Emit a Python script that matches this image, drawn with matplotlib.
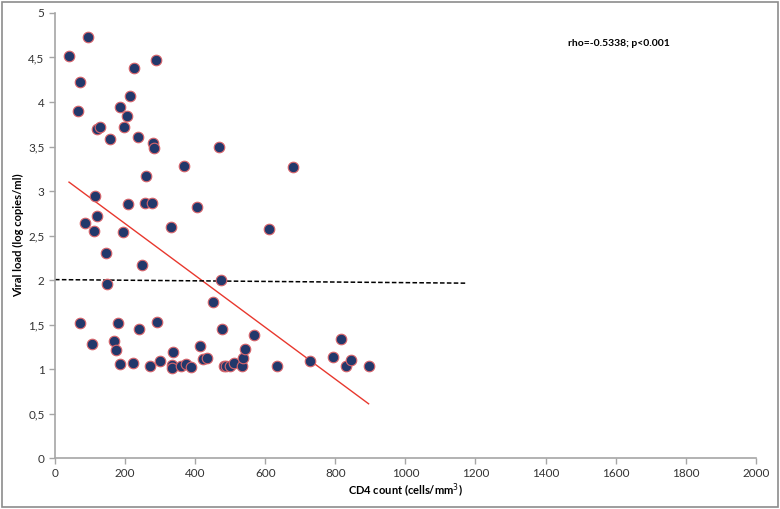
import matplotlib
matplotlib.use("Agg")
from matplotlib import pyplot as plt
from matplotlib.patches import Rectangle
from matplotlib.ticker import FuncFormatter

plt.rcParams['font.family'] = ['Lato', 'DejaVu Sans']

# CD4 count (cells/mm3) and viral load (log copies/ml)
cd4 = [40, 95, 70, 65, 119, 128, 157, 226, 289, 215, 186, 205, 197, 238, 281, 283,
       368, 467, 680, 261, 114, 121, 87, 111, 207, 256, 276, 405, 194, 331, 611,
       146, 248, 149, 474, 452, 71, 181, 241, 290, 476, 107, 167, 173, 185, 222,
       271, 301, 336, 333, 333, 359, 374, 389, 413, 421, 434, 482, 487, 499, 511,
       534, 537, 541, 569, 633, 728, 792, 817, 831, 844, 895]
viral_load = [4.52, 4.73, 4.22, 3.90, 3.70, 3.72, 3.58, 4.38, 4.47, 4.07, 3.94, 3.84,
              3.72, 3.61, 3.54, 3.48, 3.28, 3.49, 3.27, 3.17, 2.94, 2.72, 2.64, 2.55,
              2.85, 2.86, 2.86, 2.82, 2.54, 2.60, 2.57, 2.30, 2.17, 1.96, 2.00, 1.75,
              1.52, 1.52, 1.45, 1.53, 1.45, 1.28, 1.32, 1.21, 1.06, 1.07, 1.04, 1.09,
              1.19, 1.05, 1.01, 1.04, 1.06, 1.02, 1.26, 1.11, 1.12, 1.03, 1.03, 1.03,
              1.07, 1.03, 1.13, 1.22, 1.38, 1.04, 1.09, 1.14, 1.34, 1.04, 1.10, 1.04]

# trend line and threshold line end points
trend_x = [40, 895]
trend_y = [3.10, 0.61]
thresh_x = [0, 1175]
thresh_y = [2.005, 1.965]

fig = plt.figure(figsize=(7.8, 5.09), dpi=100)
ax = fig.add_axes([0.0705, 0.100, 0.8985, 0.8745])

ax.scatter(cd4, viral_load, s=58, c='#22386b', edgecolors='#d9646a',
           linewidths=0.8, zorder=3, clip_on=False)
ax.plot(trend_x, trend_y, color='#e8382e', lw=1.0, zorder=2)
ax.plot(thresh_x, thresh_y, color='black', lw=1.1, ls=(0, (3, 1.5)), zorder=2)

ax.set_xlim(0, 2000)
ax.set_ylim(0, 5)
ax.set_xticks(range(0, 2001, 200))
ax.set_yticks([0, 0.5, 1, 1.5, 2, 2.5, 3, 3.5, 4, 4.5, 5])
ax.yaxis.set_major_formatter(FuncFormatter(lambda v, p: ('%g' % v).replace('.', ',')))

for side in ['top', 'right']:
    ax.spines[side].set_visible(False)
for side in ['left', 'bottom']:
    ax.spines[side].set_color('#a6a6a6')
    ax.spines[side].set_linewidth(1.2)
ax.tick_params(colors='#a6a6a6', length=4, width=1, labelsize=8.5, labelcolor='#333333')
ax.tick_params(axis='x', pad=3)

ax.set_xlabel('CD4 count (cells/mm$^3$)', fontsize=8, fontweight='bold', labelpad=2)
ax.set_ylabel('Viral load (log copies/ml)', fontsize=8, fontweight='bold', labelpad=3)

fig.text(0.728, 0.910, 'rho=-0.5338; p<0.001', fontsize=7.5, fontweight='bold')

fig.patches.append(Rectangle((0.003, 0.004), 0.994, 0.992, transform=fig.transFigure,
                             fill=False, edgecolor='#8c8c8c', lw=1.2))

fig.savefig('out.png', dpi=100)
